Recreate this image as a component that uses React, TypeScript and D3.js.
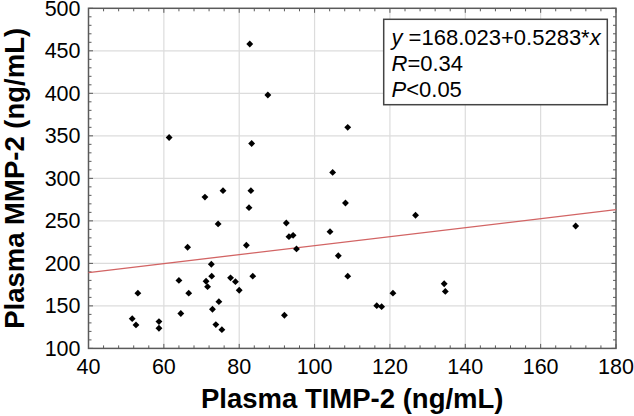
import React from "react";
import * as d3 from "d3";

const timp2: number[] = [
  61.4, 82.8, 87.6, 108.8, 83.3, 104.8, 70.9, 75.7, 83.1, 82.6,
  108.2, 126.8, 74.4, 92.5, 66.3, 93.2, 94.3, 104.1, 81.9, 95.2,
  106.3, 72.6, 64.0, 72.7, 71.2, 71.6, 53.1, 66.6, 74.6, 64.5,
  72.9, 51.6, 52.6, 58.7, 58.7, 73.8, 75.4, 77.7, 79.0, 83.6,
  80.0, 108.8, 120.8, 116.5, 117.8, 92.0, 169.3, 134.4, 134.7,
];
const mmp2: number[] = [
  348, 458, 398, 360, 341, 307, 278, 285.5, 285.5, 265.5,
  271, 256.6, 246.4, 247.5, 219, 231.4, 233, 237.3, 221.3, 217,
  209, 199, 180, 185, 179, 172.6, 165, 165, 155, 141,
  146, 135, 127.6, 131.5, 123.7, 128, 122, 183, 178.5, 185,
  168.4, 185, 165, 150.3, 149.1, 139, 244, 176, 167,
];
const xTicks: number[] = [40, 60, 80, 100, 120, 140, 160, 180];
const yTicks: number[] = [100, 150, 200, 250, 300, 350, 400, 450, 500];
const fitIntercept = 168.023;
const fitSlope = 0.5283;
const statLines = ["R=0.34", "P<0.05"];
const xTitle = "Plasma TIMP-2 (ng/mL)";
const yTitle = "Plasma MMP-2 (ng/mL)";

const W = 634;
const H = 416;
const L = 88.5, R = 616, T = 8.3, B = 348.4;
const FONT = "'Liberation Sans', Arial, Helvetica, sans-serif";

export default function App() {
  const x = d3.scaleLinear().domain([40, 180]).range([L, R]);
  const y = d3.scaleLinear().domain([100, 500]).range([B, T]);
  const xMinor = d3.range(40, 180.001, 4);
  const yMinor = d3.range(100, 500.001, 10);
  const fit = d3.line<number>().x((v) => x(v)).y((v) => y(fitIntercept + fitSlope * v));
  const diamond = d3.symbol().type(d3.symbolDiamond2).size(30)() as string;
  const axisColor = "#5a5a5a";
  const tickFont = 21.5;
  const titleFont = 27.5;
  const statFont = 22;

  return (
    <svg width={W} height={H} style={{ position: "absolute", left: 0, top: 0, background: "#fff" }}>
      <rect x={0} y={0} width={W} height={H} fill="#fff" />
      {/* grid */}
      {xTicks.slice(1, -1).map((t) => (
        <line key={"gx" + t} x1={x(t)} x2={x(t)} y1={T} y2={B} stroke="#dcdcdc" strokeWidth={1.2} />
      ))}
      {yTicks.slice(1, -1).map((t) => (
        <line key={"gy" + t} x1={L} x2={R} y1={y(t)} y2={y(t)} stroke="#dcdcdc" strokeWidth={1.2} />
      ))}
      {/* minor ticks all sides */}
      {xMinor.map((t, i) => {
        const major = i % 5 === 0;
        const len = major ? 4.5 : 3;
        return (
          <g key={"xm" + i}>
            <line x1={x(t)} x2={x(t)} y1={B} y2={B - len} stroke={axisColor} strokeWidth={1} />
            <line x1={x(t)} x2={x(t)} y1={T} y2={T + len} stroke={axisColor} strokeWidth={1} />
          </g>
        );
      })}
      {yMinor.map((t, i) => {
        const major = i % 5 === 0;
        const len = major ? 4.5 : 3;
        return (
          <g key={"ym" + i}>
            <line x1={L} x2={L + len} y1={y(t)} y2={y(t)} stroke={axisColor} strokeWidth={1} />
            <line x1={R} x2={R - len} y1={y(t)} y2={y(t)} stroke={axisColor} strokeWidth={1} />
          </g>
        );
      })}
      {/* frame */}
      <rect x={L} y={T} width={R - L} height={B - T} fill="none" stroke={axisColor} strokeWidth={1.5} />
      {/* fit line */}
      <path d={fit([40, 180]) as string} stroke="#d26464" strokeWidth={1.3} fill="none" />
      {/* points */}
      {timp2.map((v, i) => (
        <path key={"p" + i} d={diamond} transform={`translate(${x(v)},${y(mmp2[i])})`} fill="#000" />
      ))}
      {/* tick labels */}
      {xTicks.map((t) => (
        <text key={"xl" + t} x={x(t)} y={374} textAnchor="middle" fontFamily={FONT} fontSize={tickFont} fill="#000">
          {t}
        </text>
      ))}
      {yTicks.map((t) => (
        <text key={"yl" + t} x={80.5} y={y(t) + 7.6} textAnchor="end" fontFamily={FONT} fontSize={tickFont} fill="#000">
          {t}
        </text>
      ))}
      {/* axis titles */}
      <text x={(L + R) / 2} y={408} textAnchor="middle" fontFamily={FONT} fontSize={titleFont} fontWeight="bold" fill="#000">
        {xTitle}
      </text>
      <text
        transform={`translate(23.5,${(T + B) / 2}) rotate(-90)`}
        textAnchor="middle"
        fontFamily={FONT}
        fontSize={titleFont}
        fontWeight="bold"
        fill="#000"
      >
        {yTitle}
      </text>
      {/* stats box */}
      <rect x={383.7} y={19.3} width={223.6} height={85.4} fill="#fff" stroke="#444" strokeWidth={1.5} />
      <text x={391.5} y={44.5} fontFamily={FONT} fontSize={statFont} fill="#000">
        <tspan fontStyle="italic">y</tspan>
        <tspan>{` =${fitIntercept}+${fitSlope}*`}</tspan>
        <tspan fontStyle="italic">x</tspan>
      </text>
      <text x={391.5} y={71.2} fontFamily={FONT} fontSize={statFont} fill="#000">
        <tspan fontStyle="italic">{statLines[0].slice(0, 1)}</tspan>
        <tspan>{statLines[0].slice(1)}</tspan>
      </text>
      <text x={391.5} y={97.3} fontFamily={FONT} fontSize={statFont} fill="#000">
        <tspan fontStyle="italic">{statLines[1].slice(0, 1)}</tspan>
        <tspan>{statLines[1].slice(1)}</tspan>
      </text>
    </svg>
  );
}
